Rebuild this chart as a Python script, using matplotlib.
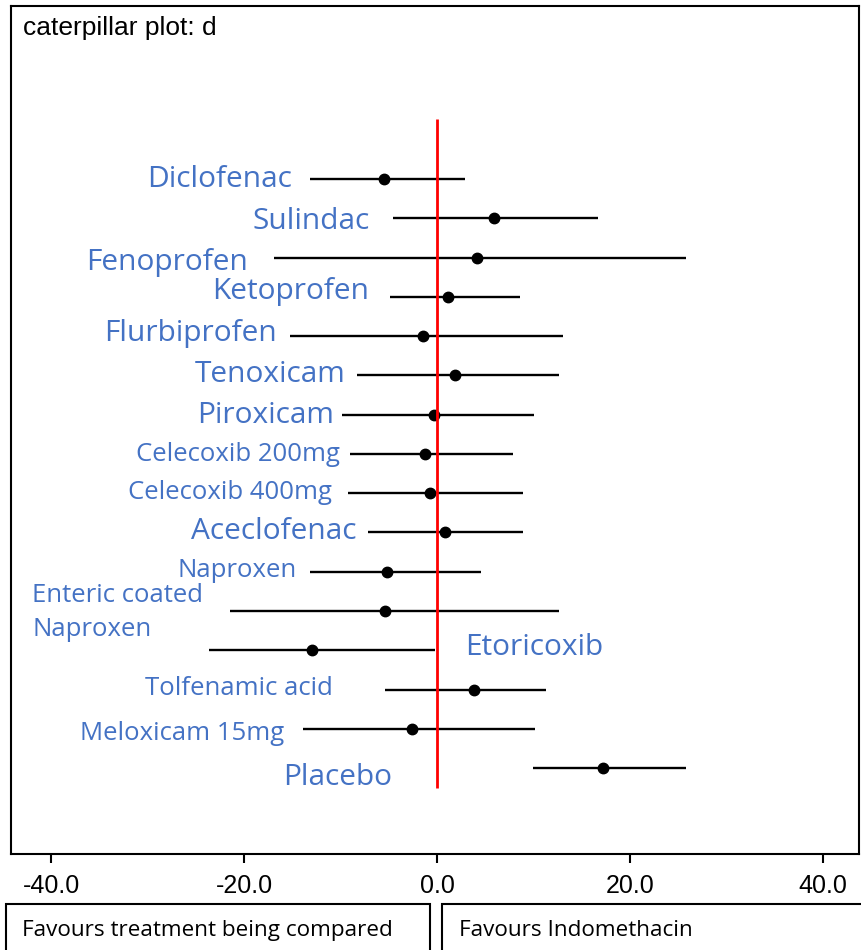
import matplotlib
matplotlib.use("Agg")
import matplotlib.pyplot as plt
from matplotlib.patches import Rectangle

# data (mean difference vs indomethacin)
drugs = ["Diclofenac", "Sulindac", "Fenoprofen", "Ketoprofen", "Flurbiprofen",
         "Tenoxicam", "Piroxicam", "Celecoxib 200mg", "Celecoxib 400mg",
         "Aceclofenac", "Naproxen", "Enteric coated\nNaproxen", "Etoricoxib",
         "Tolfenamic acid", "Meloxicam 15mg", "Placebo"]
est = [-5.5, 5.9, 4.1, 1.1, -1.5, 1.9, -0.3, -1.2, -0.7,
       0.8, -5.2, -5.4, -13.0, 3.8, -2.6, 17.2]
lo = [-13.2, -4.6, -16.9, -4.9, -15.2, -8.3, -9.8, -9.0, -9.2,
      -7.2, -13.2, -21.5, -23.6, -5.4, -13.9, 9.9]
hi = [2.9, 16.7, 25.8, 8.6, 13.1, 12.6, 10.0, 7.9, 8.9,
      8.9, 4.6, 12.6, -0.2, 11.3, 10.2, 25.8]
xticks = [-40, -20, 0, 20, 40]

# label placement: (x anchor, baseline offset from row, alignment, size)
big, small = 21.5, 18.5
label_pos = [(-15.03, 0.20, "right", big), (-6.94, 0.27, "right", big),
             (-19.59, 0.32, "right", big), (-7.05, 0.06, "right", big),
             (-16.58, 0.13, "right", big), (-9.53, 0.17, "right", big),
             (-10.67, 0.21, "right", big), (-10.05, 0.18, "right", small),
             (-10.88, 0.15, "right", small), (-8.39, 0.17, "right", big),
             (-14.51, 0.13, "right", small), (-41.97, 0.64, "left", small),
             (2.90, 0.12, "left", big), (-10.78, 0.14, "right", small),
             (-15.85, 0.29, "right", small), (-4.66, 0.42, "right", big)]

blue = "#4472C4"
rows = list(range(len(drugs)))

fig = plt.figure(figsize=(8.62, 9.5), dpi=100)
ax = fig.add_axes([11/862, 96/950, 848/862, 848/950])

ax.hlines(rows, lo, hi, color="black", lw=1.7)
ax.plot(est, rows, "o", color="black", ms=7.5)
ax.vlines(0, -1.53, 15.51, color="red", lw=2)

for i, (name, (x, dy, ha, fs)) in enumerate(zip(drugs, label_pos)):
    ax.text(x, i + dy, name, ha=ha, va="baseline", color=blue,
            fontsize=fs, family="Open Sans", linespacing=1.5)

ax.set_xlim(-44.15, 43.73)
ax.set_ylim(17.19, -4.41)
ax.set_yticks([])
ax.set_xticks(xticks)
ax.set_xticklabels(["%.1f" % t for t in xticks], fontsize=18, family="Liberation Sans")
ax.tick_params(axis="x", length=6.5, width=1.5, pad=8)
for s in ax.spines.values():
    s.set_linewidth(1.5)

fig.text(23/862, 1 - 35/950, "caterpillar plot: d", fontsize=19,
         family="Liberation Sans", va="baseline")

# the two boxes under the axis
fig.add_artist(Rectangle((6/862, -0.02), 424/862, 0.02 + 46/950, transform=fig.transFigure,
                         fill=False, lw=1.5, ec="black"))
fig.add_artist(Rectangle((442/862, -0.02), 430/862, 0.02 + 46/950, transform=fig.transFigure,
                         fill=False, lw=1.5, ec="black"))
fig.text(22/862, 14/950, "Favours treatment being compared", fontsize=16.2,
         family="Open Sans", va="baseline")
fig.text(459/862, 14/950, "Favours Indomethacin", fontsize=16.2,
         family="Open Sans", va="baseline")

fig.savefig("out.png", dpi=100)
